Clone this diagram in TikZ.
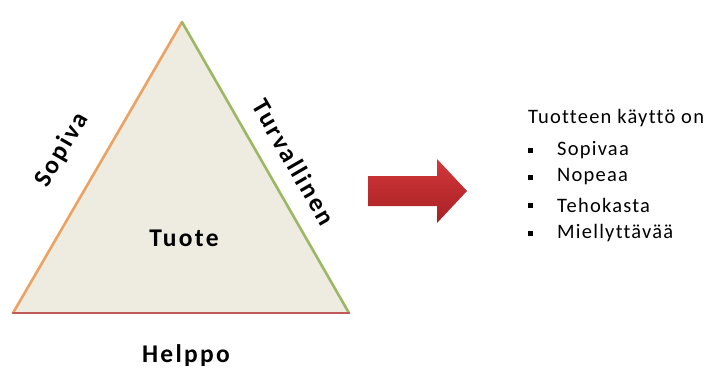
\documentclass[tikz,border=0pt]{standalone}
\usepackage{fontspec}
\setmainfont{Carlito}
\newfontfamily\labelfont[LetterSpace=9, Ligatures=NoCommon]{Carlito Bold}
\newfontfamily\listfont[LetterSpace=6, Ligatures=NoCommon]{Carlito}
\definecolor{trifill}{HTML}{EEEBE1}
\definecolor{sideorange}{HTML}{EBA262}
\definecolor{sidegreen}{HTML}{9BB862}
\definecolor{sidered}{HTML}{BE5A5A}
\definecolor{arrowtop}{HTML}{D2383A}
\definecolor{arrowbot}{HTML}{A82024}
\tikzset{
  side/.style={line width=2.6pt, line cap=round},
  sidelabel/.style={font=\labelfont\fontsize{25.5}{28}\selectfont, inner sep=0pt},
  listitem/.style={font=\listfont\fontsize{20.5}{22}\selectfont, anchor=west, inner sep=0pt},
  bulletsq/.style={fill=black, minimum size=5pt, inner sep=0pt}
}
\begin{document}
\begin{tikzpicture}[x=1pt, y=-1pt]
\useasboundingbox (0,0) rectangle (712,370);

% triangle corners
\coordinate (top) at (182,22);
\coordinate (bl) at (13,313);
\coordinate (br) at (349,313);

\fill[trifill] (top) -- (br) -- (bl) -- cycle;
\draw[side, sideorange] (bl) -- (top);
\draw[side, sidegreen] (top) -- (br);
\draw[side, sidered] (bl) -- (br);

% labels of the sides and the centre
\node[sidelabel, rotate=60] (sopiva) at (62,150) {Sopiva};
\node[sidelabel, rotate=-60] (turva) at (294,162) {Turvallinen};
\node[sidelabel] (tuote) at (184,238) {Tuote};
\node[sidelabel] (helppo) at (186,356) {Helppo};

% block arrow
\shade[top color=arrowtop, bottom color=arrowbot]
  (368,176) -- (437,176) -- (437,159) -- (467,191) -- (437,223) -- (437,206) -- (368,206) -- cycle;

% list on the right
\node[listitem] (head) at (528,118) {Tuotteen käyttö on};
\foreach \y/\t [count=\i] in {150/Sopivaa, 177/Nopeaa, 205/Tehokasta, 233/Miellyttävää}{
  \node[bulletsq] (b\i) at (530,\y) {};
  \node[listitem] (item\i) at (557,\y) {\t};
}
\end{tikzpicture}
\end{document}
